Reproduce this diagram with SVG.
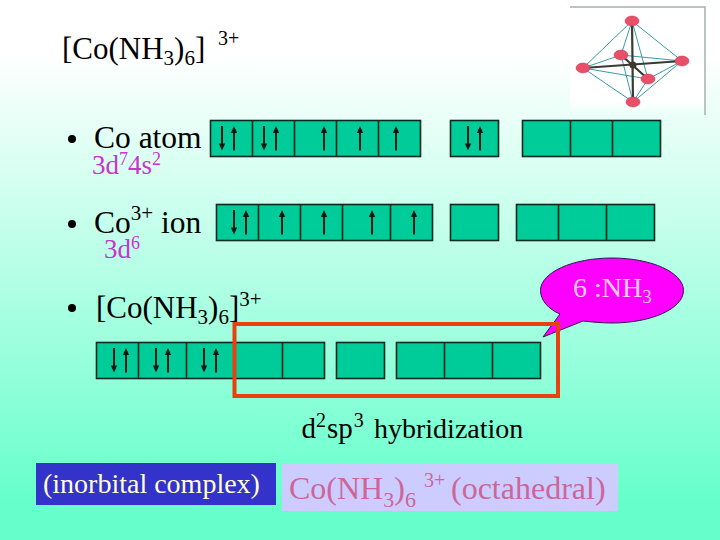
<svg xmlns="http://www.w3.org/2000/svg" width="720" height="540" viewBox="0 0 720 540">
<style>
text{font-family:"Liberation Serif","Times New Roman",serif;fill:#000}
.t{font-size:31px}
.b{font-size:31.500px}
.m{font-size:27px;fill:#CC33CC}
.s{font-size:20px}
.orb{fill:#00CC99;stroke:#0A2A20;stroke-width:1.6}
.ln{fill:none;stroke:#0A2A20;stroke-width:1.6}
.blue{stroke:#3A9AA8;stroke-width:1;fill:none}
.bond{stroke:#3A3A30;stroke-width:2.2;fill:none}
.atom{fill:#E8506A;stroke:#C03050;stroke-width:.5}
</style>
<defs>
<linearGradient id="bg" x1="0" y1="0" x2="0" y2="1">
<stop offset="0.1" stop-color="#FFFFFF"/>
<stop offset="0.93" stop-color="#66FFCC"/>
</linearGradient>
<linearGradient id="fade" x1="0" y1="0" x2="0" y2="1">
<stop offset="0.85" stop-color="#FFFFFF"/>
<stop offset="1" stop-color="#FFFFFF" stop-opacity="0"/>
</linearGradient>
<g id="up"><path d="M0 0L3.200 7H1V24.500H-1V7H-3.200Z" fill="#0A1A14"/></g>
<g id="dn"><path d="M-1 0H1V17.500H3.200L0 24.500L-3.200 17.500H-1Z" fill="#0A1A14"/></g>
</defs>
<rect id="background" width="720" height="540" fill="url(#bg)"/>

<g id="molecule">
<rect x="570" y="7" width="135" height="108" fill="url(#fade)"/>
<path d="M570 7H705V115" fill="none" stroke="#A8B0B0" stroke-width="1.500"/>
<path class="blue" d="M632 21L583 68L633 102L682 61ZM632 21L621 55L583 68M621 55L682 61M621 55L633 102M632 21L648 79L633 102M583 68L648 79L682 61"/>
<path class="bond" d="M632 21L633 102M583 68L682 61M621 55L648 79"/>
<circle cx="633" cy="65" r="3.500" fill="#3A3A30"/>
<ellipse class="atom" cx="632" cy="21" rx="7" ry="5"/>
<ellipse class="atom" cx="633" cy="102" rx="7" ry="5"/>
<ellipse class="atom" cx="583" cy="68" rx="7" ry="5"/>
<ellipse class="atom" cx="682" cy="61" rx="7" ry="5"/>
<ellipse class="atom" cx="621" cy="55" rx="7" ry="5"/>
<ellipse class="atom" cx="648" cy="79" rx="7" ry="5"/>
</g>

<g id="title">
<text class="t" x="62" y="59">[Co(NH<tspan font-size="21" dy="6">3</tspan><tspan dy="-6">)</tspan><tspan font-size="21" dy="6">6</tspan><tspan dy="-6">]</tspan></text>
<text class="s" x="218" y="45">3+</text>
</g>

<g id="co-atom">
<circle cx="72" cy="139" r="4"/>
<text class="b" x="94" y="148">Co atom</text>
<text class="m" x="92" y="174">3d<tspan font-size="18" dy="-9">7</tspan><tspan dy="9">4s</tspan><tspan font-size="18" dy="-9">2</tspan></text>
<rect class="orb" x="210.500" y="120.500" width="210" height="36"/>
<path class="ln" d="M252.500 120.500v36M294.500 120.500v36M336.500 120.500v36M378.500 120.500v36"/>
<rect class="orb" x="450.500" y="120.500" width="48" height="36"/>
<rect class="orb" x="522.500" y="120.500" width="138" height="36"/>
<path class="ln" d="M570.500 120.500v36M612.500 120.500v36"/>
<use href="#dn" x="222" y="126"/><use href="#up" x="234" y="126"/>
<use href="#dn" x="264" y="126"/><use href="#up" x="276" y="126"/>
<use href="#up" x="324" y="126"/><use href="#up" x="360" y="126"/><use href="#up" x="396" y="126"/>
<use href="#dn" x="468" y="126"/><use href="#up" x="480" y="126"/>
</g>

<g id="co-ion">
<circle cx="72" cy="224" r="4"/>
<text class="b" x="94" y="233">Co<tspan font-size="21" dy="-13">3+</tspan><tspan dy="13"> ion</tspan></text>
<text class="m" x="104" y="258">3d<tspan font-size="18" dy="-9">6</tspan></text>
<rect class="orb" x="216.500" y="204.500" width="216" height="36"/>
<path class="ln" d="M258.500 204.500v36M300.500 204.500v36M342.500 204.500v36M390.500 204.500v36"/>
<rect class="orb" x="450.500" y="204.500" width="48" height="36"/>
<rect class="orb" x="516.500" y="204.500" width="138" height="36"/>
<path class="ln" d="M558.500 204.500v36M606.500 204.500v36"/>
<use href="#dn" x="234" y="210"/><use href="#up" x="246" y="210"/>
<use href="#up" x="282" y="210"/><use href="#up" x="324" y="210"/><use href="#up" x="372" y="210"/><use href="#up" x="414" y="210"/>
</g>

<g id="complex">
<circle cx="72" cy="308" r="4"/>
<text class="t" x="96" y="318">[Co(NH<tspan font-size="21" dy="6">3</tspan><tspan dy="-6">)</tspan><tspan font-size="21" dy="6">6</tspan><tspan dy="-6">]</tspan><tspan font-size="21" dy="-12">3+</tspan></text>
<rect class="orb" x="96.500" y="342.500" width="228" height="36"/>
<path class="ln" d="M138.500 342.500v36M186.500 342.500v36M234.500 342.500v36M282.500 342.500v36"/>
<rect class="orb" x="336.500" y="342.500" width="48" height="36"/>
<rect class="orb" x="396.500" y="342.500" width="144" height="36"/>
<path class="ln" d="M444.500 342.500v36M492.500 342.500v36"/>
<use href="#dn" x="114" y="348"/><use href="#up" x="126" y="348"/>
<use href="#dn" x="156" y="348"/><use href="#up" x="168" y="348"/>
<use href="#dn" x="204" y="348"/><use href="#up" x="216" y="348"/>
</g>

<g id="callout">
<path d="M560 314C548 309 540.500 300 540.500 290.500C540.500 272.500 572.500 258 612 258C651.500 258 683.500 272.500 683.500 290.500C683.500 308.500 651.500 323 612 323C602 323 592 322 583 321L543 337Z" fill="#FF00FF" stroke="#2A1A50" stroke-width="1"/>
<text x="573" y="297" font-size="28" style="fill:#FFCCFF">6 :NH<tspan font-size="19" dy="6">3</tspan></text>
</g>

<g id="highlight">
<rect x="234.500" y="324" width="323.500" height="72" fill="none" stroke="#E8410F" stroke-width="4"/>
</g>

<g id="hybridization">
<text x="301.500" y="438" font-size="29">d<tspan font-size="20" dy="-11">2</tspan><tspan dy="11" dx="1">sp</tspan><tspan font-size="20" dy="-11" dx="1">3</tspan></text>
<text x="374" y="438" font-size="28">hybridization</text>
</g>

<g id="inorbital">
<rect x="36" y="463" width="240" height="42" fill="#3333CC"/>
<text x="43" y="493" font-size="28" style="fill:#FFFFCC">(inorbital complex)</text>
</g>

<g id="octahedral">
<rect x="282" y="464" width="336" height="47" fill="#CCCCFF"/>
<text x="289" y="499" font-size="32" style="fill:#CC6699">Co(NH<tspan font-size="22" dy="8">3</tspan><tspan dy="-8">)</tspan><tspan font-size="22" dy="8">6</tspan></text>
<text x="424" y="487" font-size="20" style="fill:#CC6699">3+</text>
<text x="451" y="499" font-size="32" style="fill:#CC6699">(octahedral)</text>
</g>
</svg>
